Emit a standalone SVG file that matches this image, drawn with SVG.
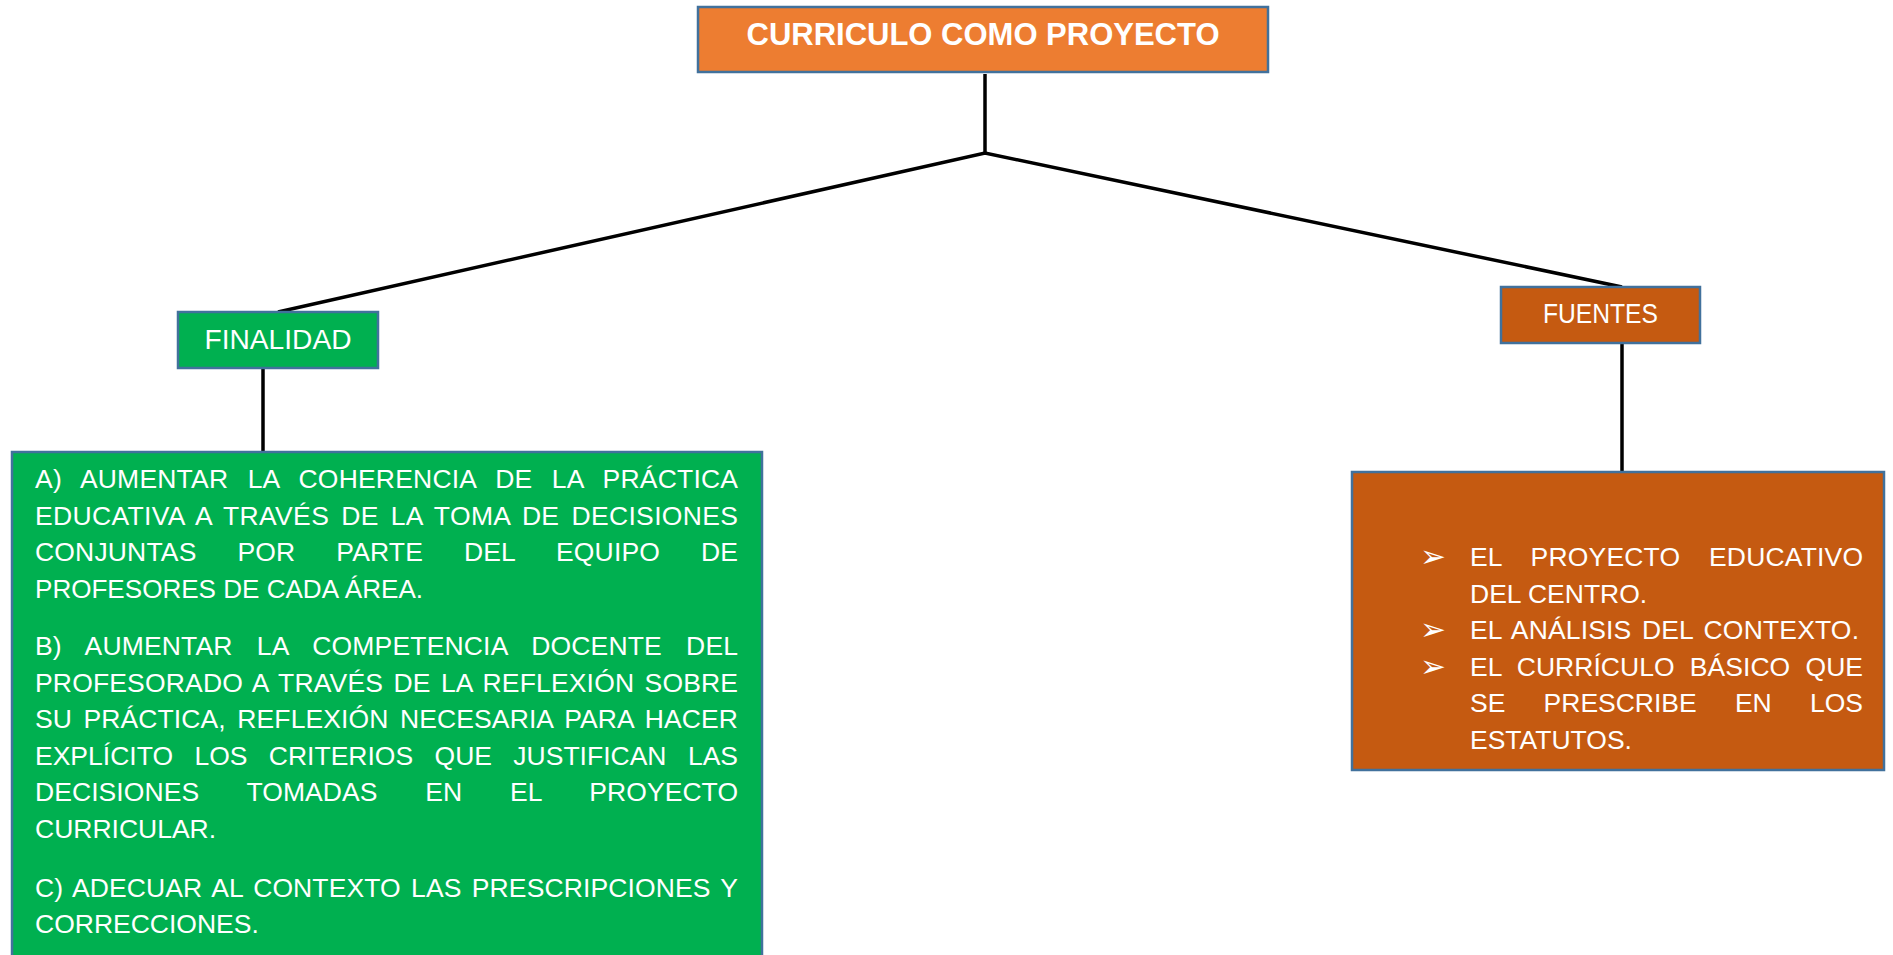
<svg xmlns="http://www.w3.org/2000/svg" width="1893" height="955" viewBox="0 0 1893 955">
  <style>
    .box { stroke: #41719C; stroke-width: 2.5; }
    .conn { stroke: #000000; stroke-width: 3.5; fill: none; stroke-linecap: butt; }
    .title { font-family: "Liberation Sans", Arial, sans-serif; font-weight: bold; font-size: 31px; fill: #FFFFFF; }
    .label { font-family: "Liberation Sans", Arial, sans-serif; font-size: 27px; fill: #FFFFFF; }
    .body { font-family: "Liberation Sans", Arial, sans-serif; font-size: 26.5px; fill: #FFFFFF; }
    .bullet { font-family: "DejaVu Sans", sans-serif; font-size: 31px; fill: #FFFFFF; }
  </style>
  <rect width="1893" height="955" fill="#FFFFFF"/>

  <g id="connectors">
    <line class="conn" x1="985" y1="74" x2="985" y2="153"/>
    <polyline class="conn" points="278,312 985,153 1622,287"/>
    <line class="conn" x1="263" y1="368" x2="263" y2="452"/>
    <line class="conn" x1="1622" y1="343" x2="1622" y2="472"/>
  </g>

  <g id="node-curriculo">
    <rect class="box" x="698" y="7" width="570" height="65" fill="#ED7D31"/>
    <text class="title" x="983" y="45" text-anchor="middle" textLength="473" lengthAdjust="spacingAndGlyphs">CURRICULO COMO PROYECTO</text>
  </g>

  <g id="node-finalidad">
    <rect class="box" x="178" y="312" width="200" height="56" fill="#00B050"/>
    <text class="label" x="278" y="349" text-anchor="middle" textLength="147" lengthAdjust="spacingAndGlyphs">FINALIDAD</text>
  </g>

  <g id="node-fuentes">
    <rect class="box" x="1501" y="287" width="199" height="56" fill="#C55A11"/>
    <text class="label" x="1600.5" y="323" text-anchor="middle" textLength="115" lengthAdjust="spacingAndGlyphs">FUENTES</text>
  </g>

  <g id="node-finalidad-detail">
    <rect class="box" x="12" y="452" width="750" height="530" fill="#00B050"/>
    <text class="body" x="35" y="488" style="word-spacing:11.9px" textLength="703" lengthAdjust="spacing">A) AUMENTAR LA COHERENCIA DE LA PRÁCTICA</text>
    <text class="body" x="35" y="524.6" style="word-spacing:4.3px" textLength="703" lengthAdjust="spacing">EDUCATIVA A TRAVÉS DE LA TOMA DE DECISIONES</text>
    <text class="body" x="35" y="561.2" style="word-spacing:33.4px" textLength="703" lengthAdjust="spacing">CONJUNTAS POR PARTE DEL EQUIPO DE</text>
    <text class="body" x="35" y="597.8" textLength="388" lengthAdjust="spacingAndGlyphs">PROFESORES DE CADA ÁREA.</text>
    <text class="body" x="35" y="655" style="word-spacing:16.6px" textLength="703" lengthAdjust="spacing">B) AUMENTAR LA COMPETENCIA DOCENTE DEL</text>
    <text class="body" x="35" y="691.6" style="word-spacing:2.8px" textLength="703" lengthAdjust="spacing">PROFESORADO A TRAVÉS DE LA REFLEXIÓN SOBRE</text>
    <text class="body" x="35" y="728.2" style="word-spacing:4px" textLength="703" lengthAdjust="spacing">SU PRÁCTICA, REFLEXIÓN NECESARIA PARA HACER</text>
    <text class="body" x="35" y="764.8" style="word-spacing:14px" textLength="703" lengthAdjust="spacing">EXPLÍCITO LOS CRITERIOS QUE JUSTIFICAN LAS</text>
    <text class="body" x="35" y="801.4" style="word-spacing:40.3px" textLength="703" lengthAdjust="spacing">DECISIONES TOMADAS EN EL PROYECTO</text>
    <text class="body" x="35" y="838">CURRICULAR.</text>
    <text class="body" x="35" y="897" style="word-spacing:2.8px" textLength="703" lengthAdjust="spacing">C) ADECUAR AL CONTEXTO LAS PRESCRIPCIONES Y</text>
    <text class="body" x="35" y="933">CORRECCIONES.</text>
  </g>

  <g id="node-fuentes-detail">
    <rect class="box" x="1352" y="472" width="532" height="298" fill="#C55A11"/>
    <text class="bullet" x="1420" y="567">➢</text>
    <text class="bullet" x="1420" y="640">➢</text>
    <text class="bullet" x="1420" y="676.5">➢</text>
    <text class="body" x="1470" y="566" style="word-spacing:21.3px" textLength="393" lengthAdjust="spacing">EL PROYECTO EDUCATIVO</text>
    <text class="body" x="1470" y="602.5">DEL CENTRO.</text>
    <text class="body" x="1470" y="639" style="word-spacing:3px" textLength="389" lengthAdjust="spacing">EL ANÁLISIS DEL CONTEXTO.</text>
    <text class="body" x="1470" y="675.5" style="word-spacing:7.8px" textLength="393" lengthAdjust="spacing">EL CURRÍCULO BÁSICO QUE</text>
    <text class="body" x="1470" y="712" style="word-spacing:30.9px" textLength="393" lengthAdjust="spacing">SE PRESCRIBE EN LOS</text>
    <text class="body" x="1470" y="748.5">ESTATUTOS.</text>
  </g>
</svg>
